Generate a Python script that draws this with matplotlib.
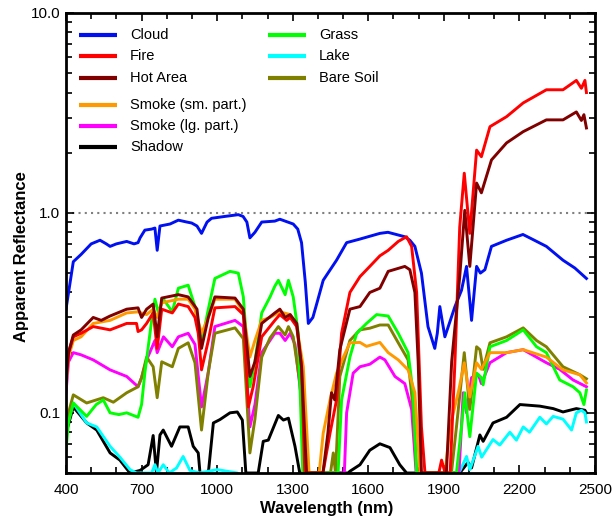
import numpy as np
import matplotlib.pyplot as plt
from matplotlib.ticker import FixedLocator, NullFormatter

plt.rcParams['font.family'] = ['Liberation Sans', 'DejaVu Sans']

# values below the plot floor are set to 0.05 (drawn along the bottom)
cloud_wl = [400, 429, 460, 500, 535, 560, 575, 600, 641, 670, 686, 694, 713, 740, 753, 762, 773, 813, 846, 880,
            899, 920, 938, 960, 978, 1030, 1084, 1103, 1118, 1130, 1150, 1177, 1229, 1249, 1302, 1320, 1335, 1350,
            1362, 1380, 1395, 1421, 1440, 1474, 1514, 1567, 1646, 1678, 1745, 1765, 1785, 1811, 1837, 1864, 1874,
            1884, 1904, 1944, 1970, 1990, 2010, 2030, 2045, 2063, 2089, 2149, 2214, 2250, 2307, 2373, 2420, 2466]
cloud_r = [0.33, 0.57, 0.62, 0.70, 0.73, 0.70, 0.68, 0.70, 0.72, 0.70, 0.71, 0.75, 0.82, 0.83, 0.84, 0.65, 0.86,
           0.88, 0.92, 0.90, 0.89, 0.86, 0.79, 0.90, 0.94, 0.96, 0.98, 0.96, 0.90, 0.75, 0.80, 0.90, 0.91, 0.93,
           0.88, 0.83, 0.71, 0.45, 0.28, 0.30, 0.35, 0.46, 0.50, 0.58, 0.71, 0.74, 0.79, 0.80, 0.76, 0.73, 0.68,
           0.50, 0.27, 0.21, 0.25, 0.34, 0.24, 0.34, 0.41, 0.54, 0.29, 0.54, 0.50, 0.52, 0.68, 0.73, 0.78, 0.74,
           0.68, 0.58, 0.53, 0.47]

fire_wl = [400, 410, 429, 460, 508, 575, 641, 680, 686, 700, 720, 746, 762, 780, 822, 846, 885, 912, 925, 938,
           965, 991, 1071, 1104, 1124, 1143, 1177, 1229, 1249, 1276, 1290, 1316, 1335, 1348, 1420, 1448, 1474,
           1494, 1527, 1567, 1606, 1646, 1679, 1719, 1752, 1772, 1792, 1811, 1825, 1880, 1891, 1905, 1925, 1944,
           1963, 1981, 2003, 2030, 2049, 2083, 2149, 2215, 2307, 2373, 2426, 2446, 2460, 2466]
fire_r = [0.146, 0.20, 0.24, 0.25, 0.27, 0.26, 0.28, 0.28, 0.255, 0.26, 0.28, 0.316, 0.21, 0.33, 0.316, 0.35,
          0.34, 0.30, 0.25, 0.164, 0.23, 0.335, 0.34, 0.31, 0.107, 0.135, 0.24, 0.29, 0.31, 0.29, 0.30, 0.27, 0.17,
          0.05, 0.05, 0.079, 0.116, 0.25, 0.40, 0.48, 0.54, 0.61, 0.65, 0.72, 0.76, 0.68, 0.40, 0.085, 0.05, 0.05,
          0.058, 0.05, 0.05, 0.18, 0.85, 1.58, 0.79, 2.06, 1.91, 2.7, 3.03, 3.55, 4.13, 4.13, 4.6, 4.2, 4.6, 4.0]

hot_wl = [400, 410, 429, 460, 508, 540, 575, 641, 686, 700, 720, 746, 762, 780, 846, 885, 920, 938, 965, 991,
          1071, 1104, 1130, 1150, 1177, 1229, 1249, 1270, 1290, 1316, 1335, 1355, 1420, 1440, 1454, 1467, 1487,
          1527, 1567, 1606, 1646, 1679, 1745, 1765, 1785, 1798, 1811, 1910, 1931, 1963, 1983, 2003, 2030, 2049,
          2089, 2149, 2215, 2307, 2373, 2426, 2446, 2456, 2466]
hot_r = [0.143, 0.20, 0.245, 0.26, 0.30, 0.29, 0.305, 0.33, 0.335, 0.30, 0.33, 0.35, 0.24, 0.375, 0.39, 0.38,
         0.33, 0.21, 0.30, 0.38, 0.375, 0.33, 0.152, 0.18, 0.28, 0.316, 0.33, 0.30, 0.31, 0.28, 0.17, 0.05, 0.05,
         0.08, 0.126, 0.116, 0.207, 0.33, 0.34, 0.40, 0.42, 0.51, 0.54, 0.52, 0.40, 0.18, 0.05, 0.05, 0.18, 0.48,
         1.03, 0.54, 1.41, 1.26, 1.84, 2.24, 2.55, 2.92, 2.92, 3.2, 2.9, 3.1, 2.66]

smoke_sm_wl = [400, 410, 429, 460, 508, 575, 641, 686, 720, 746, 762, 780, 846, 885, 912, 938, 965, 991, 1071,
               1104, 1130, 1150, 1177, 1210, 1249, 1290, 1316, 1342, 1365, 1405, 1421, 1448, 1474, 1501, 1527, 1567,
               1593, 1646, 1679, 1719, 1758, 1785, 1805, 1905, 1924, 1957, 1981, 2003, 2030, 2049, 2083, 2149, 2215,
               2307, 2373, 2440, 2466]
smoke_sm_r = [0.135, 0.19, 0.23, 0.24, 0.28, 0.29, 0.316, 0.32, 0.31, 0.33, 0.30, 0.355, 0.37, 0.37, 0.33, 0.25,
              0.30, 0.37, 0.37, 0.32, 0.19, 0.23, 0.29, 0.30, 0.32, 0.31, 0.27, 0.17, 0.05, 0.05, 0.079, 0.116, 0.158,
              0.19, 0.224, 0.225, 0.215, 0.225, 0.20, 0.184, 0.164, 0.126, 0.05, 0.05, 0.085, 0.126, 0.178, 0.12,
              0.178, 0.165, 0.2, 0.2, 0.207, 0.19, 0.164, 0.155, 0.141]

smoke_lg_wl = [400, 410, 429, 460, 508, 575, 641, 686, 700, 720, 753, 762, 787, 822, 846, 885, 912, 938, 965, 991,
               1071, 1104, 1130, 1150, 1177, 1229, 1249, 1270, 1290, 1309, 1335, 1355, 1505, 1514, 1540, 1567, 1606,
               1646, 1666, 1706, 1745, 1772, 1790, 1960, 1977, 1990, 2010, 2037, 2049, 2083, 2149, 2215, 2307, 2360,
               2413, 2466]
smoke_lg_r = [0.126, 0.18, 0.20, 0.195, 0.184, 0.164, 0.152, 0.135, 0.15, 0.184, 0.23, 0.20, 0.24, 0.214, 0.24,
              0.25, 0.22, 0.107, 0.16, 0.27, 0.29, 0.27, 0.085, 0.11, 0.20, 0.25, 0.25, 0.23, 0.25, 0.22, 0.116, 0.05,
              0.05, 0.10, 0.158, 0.17, 0.175, 0.19, 0.184, 0.152, 0.14, 0.104, 0.05, 0.05, 0.126, 0.10, 0.15, 0.155,
              0.14, 0.178, 0.2, 0.207, 0.178, 0.165, 0.146, 0.135]

shadow_wl = [400, 429, 482, 522, 575, 614, 654, 694, 726, 746, 759, 773, 786, 819, 852, 885, 905, 925, 932, 965,
             985, 1011, 1051, 1080, 1100, 1114, 1163, 1183, 1203, 1243, 1263, 1283, 1309, 1328, 1520, 1527, 1567,
             1606, 1646, 1686, 1725, 1752, 1963, 1996, 2010, 2043, 2056, 2095, 2149, 2202, 2281, 2334, 2373, 2426,
             2460, 2466]
shadow_r = [0.079, 0.107, 0.089, 0.082, 0.063, 0.058, 0.05, 0.0515, 0.055, 0.077, 0.05, 0.0775, 0.082, 0.068,
            0.085, 0.085, 0.068, 0.063, 0.05, 0.05, 0.089, 0.0925, 0.10, 0.101, 0.092, 0.05, 0.05, 0.072, 0.073,
            0.097, 0.092, 0.094, 0.068, 0.05, 0.05, 0.051, 0.055, 0.065, 0.07, 0.067, 0.055, 0.05, 0.05, 0.0565,
            0.053, 0.0775, 0.072, 0.089, 0.095, 0.11, 0.108, 0.105, 0.101, 0.105, 0.103, 0.10]

grass_wl = [400, 410, 429, 482, 520, 548, 575, 610, 641, 686, 700, 713, 740, 753, 766, 787, 822, 846, 885, 912,
            938, 965, 991, 1051, 1084, 1104, 1130, 1150, 1177, 1210, 1229, 1243, 1270, 1283, 1302, 1322, 1340, 1480,
            1494, 1527, 1554, 1593, 1633, 1679, 1719, 1758, 1778, 1792, 1950, 1970, 1983, 2003, 2030, 2049, 2056,
            2083, 2149, 2215, 2268, 2307, 2360, 2413, 2440, 2456, 2466]
grass_r = [0.065, 0.09, 0.112, 0.096, 0.11, 0.116, 0.10, 0.098, 0.10, 0.095, 0.11, 0.158, 0.29, 0.37, 0.32, 0.37,
           0.32, 0.42, 0.435, 0.34, 0.224, 0.33, 0.47, 0.51, 0.50, 0.38, 0.135, 0.18, 0.316, 0.38, 0.43, 0.46, 0.39,
           0.46, 0.38, 0.25, 0.05, 0.05, 0.116, 0.19, 0.25, 0.28, 0.31, 0.305, 0.25, 0.20, 0.126, 0.05, 0.05, 0.085,
           0.126, 0.076, 0.158, 0.15, 0.138, 0.214, 0.23, 0.26, 0.214, 0.20, 0.146, 0.135, 0.126, 0.11, 0.13]

# lake drops out of range (below the floor) between ~1100 and ~1950
lake_wl = [400, 429, 482, 522, 575, 614, 654, 680, 740, 753, 765, 786, 810, 839, 865, 892, 930, 1000, 1080, 1100,
           1940, 1960, 1990, 2003, 2036, 2050, 2095, 2122, 2162, 2188, 2215, 2240, 2281, 2307, 2334, 2373, 2407,
           2426, 2446, 2460, 2466]
lake_r = [0.082, 0.112, 0.089, 0.085, 0.068, 0.06, 0.052, 0.05, 0.05, 0.055, 0.05, 0.055, 0.05, 0.053, 0.0605,
          0.0515, 0.05, 0.052, 0.05, 0.03, 0.03, 0.05, 0.0605, 0.052, 0.068, 0.06, 0.0735, 0.069, 0.08, 0.073, 0.085,
          0.08, 0.095, 0.088, 0.096, 0.093, 0.082, 0.10, 0.103, 0.10, 0.09]

soil_wl = [400, 410, 429, 482, 548, 588, 641, 686, 700, 720, 746, 762, 780, 822, 846, 885, 912, 938, 965, 991,
           1071, 1104, 1130, 1150, 1177, 1210, 1243, 1270, 1283, 1302, 1329, 1350, 1450, 1461, 1470, 1487, 1527,
           1567, 1606, 1646, 1679, 1719, 1758, 1778, 1792, 1930, 1950, 1981, 2003, 2030, 2043, 2056, 2083, 2149,
           2215, 2268, 2307, 2373, 2440, 2466]
soil_r = [0.082, 0.10, 0.123, 0.112, 0.119, 0.113, 0.126, 0.135, 0.15, 0.19, 0.17, 0.119, 0.18, 0.17, 0.21, 0.224,
          0.178, 0.082, 0.16, 0.25, 0.266, 0.235, 0.063, 0.093, 0.19, 0.237, 0.27, 0.245, 0.27, 0.24, 0.14, 0.05,
          0.05, 0.063, 0.05, 0.152, 0.23, 0.26, 0.265, 0.275, 0.275, 0.224, 0.184, 0.104, 0.05, 0.05, 0.085, 0.20,
          0.104, 0.214, 0.207, 0.165, 0.224, 0.24, 0.266, 0.23, 0.214, 0.17, 0.155, 0.148]

names = ['Cloud', 'Fire', 'Hot Area', 'Smoke (sm. part.)', 'Smoke (lg. part.)', 'Shadow', 'Grass', 'Lake', 'Bare Soil']
colors = ['#0010f0', '#ff0000', '#800000', '#ff9900', '#ff00ff', '#000000', '#00ff00', '#00ffff', '#808000']
series = [(cloud_wl, cloud_r), (fire_wl, fire_r), (hot_wl, hot_r), (smoke_sm_wl, smoke_sm_r),
          (smoke_lg_wl, smoke_lg_r), (shadow_wl, shadow_r), (grass_wl, grass_r), (lake_wl, lake_r),
          (soil_wl, soil_r)]
draw_order = [5, 7, 0, 4, 8, 6, 3, 1, 2]

fig = plt.figure(figsize=(6.16, 5.22), dpi=100)
ax = fig.add_axes([66/616, 49/522, 529/616, 460/522])

ax.axhline(1.0, color='#808080', ls=(0, (1, 2)), lw=1.5, zorder=1)
for i in draw_order:
    wl, r = series[i]
    ax.plot(wl, r, color=colors[i], lw=2.1, zorder=2, solid_joinstyle='round')

ax.set_yscale('log')
ax.set_xlim(400, 2500)
ax.set_ylim(0.05, 10)
ax.xaxis.set_major_locator(FixedLocator([400, 700, 1000, 1300, 1600, 1900, 2200, 2500]))
ax.xaxis.set_minor_locator(FixedLocator(np.arange(400, 2501, 100)))
ax.yaxis.set_major_locator(FixedLocator([0.1, 1.0, 10.0]))
ax.set_yticklabels(['0.1', '1.0', '10.0'])
minor_y = [v * d for d in [0.01, 0.1, 1] for v in range(2, 10) if 0.05 <= v * d <= 10]
ax.yaxis.set_minor_locator(FixedLocator(minor_y))
ax.yaxis.set_minor_formatter(NullFormatter())
ax.tick_params(which='both', direction='in', top=True, right=True, width=1.2, labelsize=11)
ax.tick_params(axis='x', which='major', pad=7)
ax.tick_params(axis='y', which='major', pad=4)
ax.tick_params(which='major', length=6)
ax.tick_params(which='minor', length=4)
for s in ax.spines.values():
    s.set_linewidth(2.0)

ax.set_xlabel('Wavelength (nm)', fontsize=12, fontweight='bold')
ax.set_ylabel('Apparent Reflectance', fontsize=12, fontweight='bold')
ax.xaxis.set_label_coords((327 - 66) / 529, (473 - 501) / 460)
ax.yaxis.set_label_coords((29 - 66) / 529, (473 - 257) / 460)

# legend, two columns with a gap after the third entry
rows_left = [35, 56, 78, 105, 126, 147]
rows_right = [35, 56, 78]
entries = [(0, rows_left[0], 79), (1, rows_left[1], 79), (2, rows_left[2], 79), (3, rows_left[3], 79),
           (4, rows_left[4], 79), (5, rows_left[5], 79), (6, rows_right[0], 268), (7, rows_right[1], 268),
           (8, rows_right[2], 268)]
for i, ypx, xpx in entries:
    yf = (473 - ypx) / 460
    x0 = (xpx - 66) / 529
    x1 = (xpx + 38 - 66) / 529
    ax.plot([x0, x1], [yf, yf], color=colors[i], lw=3.0, transform=ax.transAxes, solid_capstyle='butt')
    ax.text(x1 + 13/529, yf, names[i], transform=ax.transAxes, fontsize=10.5, va='center', ha='left')

fig.savefig('out.png', dpi=100)
